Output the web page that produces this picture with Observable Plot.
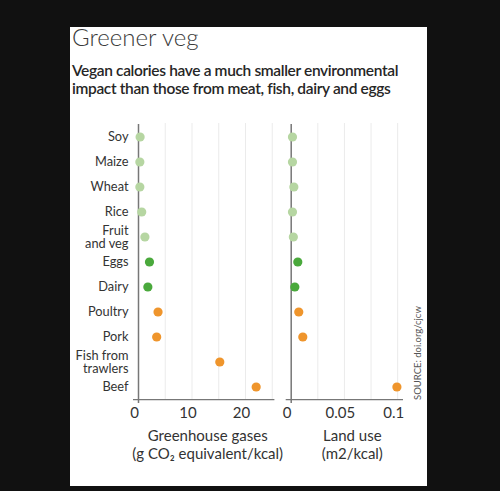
<!DOCTYPE html>
<html>
<head>
<meta charset="utf-8">
<script src="https://cdn.jsdelivr.net/npm/d3@7"></script>
<script src="https://cdn.jsdelivr.net/npm/@observablehq/plot@0.6"></script>
<style>
  html, body { margin: 0; padding: 0; background: #111; width: 500px; height: 491px; overflow: hidden; }
  #card { position: absolute; left: 70px; top: 27px; width: 357px; height: 459px; background: #fff; }
  #title { position: absolute; left: 72px; top: 22px; font: 300 24px Lato, sans-serif; color: #3a3a3a; white-space: nowrap; }
  #subtitle { position: absolute; left: 72px; top: 61px; font: 600 15.5px Lato, sans-serif; line-height: 18px; color: #262626; white-space: nowrap; letter-spacing: -0.35px; }
  #p1 { position: absolute; left: 70px; top: 110px; }
  #p2 { position: absolute; left: 280px; top: 110px; }
  #source { position: absolute; left: 418px; top: 400px; transform-origin: 0 0; transform: rotate(-90deg) translate(0, -6px); font: 9.5px Lato, sans-serif; color: #555; white-space: nowrap; }
  svg { overflow: visible; }
</style>
</head>
<body>
<div id="card"></div>
<div id="title">Greener veg</div>
<div id="subtitle">Vegan calories have a much smaller environmental<br>impact than those from meat, fish, dairy and eggs</div>
<div id="p1"></div>
<div id="p2"></div>
<div id="source">SOURCE: doi.org/cjcw</div>
<script>
// Data
const foods = ["Soy", "Maize", "Wheat", "Rice", "Fruit and veg", "Eggs", "Dairy", "Poultry", "Pork", "Fish from trawlers", "Beef"];
const foodLabels = ["Soy", "Maize", "Wheat", "Rice", "Fruit\nand veg", "Eggs", "Dairy", "Poultry", "Pork", "Fish from\ntrawlers", "Beef"];
const groups = ["Vegan", "Vegan", "Vegan", "Vegan", "Vegan", "Dairy and eggs", "Dairy and eggs", "Meat and fish", "Meat and fish", "Meat and fish", "Meat and fish"];
const ghg = [0.3, 0.25, 0.25, 0.6, 1.2, 2.05, 1.75, 3.65, 3.4, 15.2, 22.0];
const landUse = [0.0012, 0.0012, 0.0025, 0.0012, 0.002, 0.0062, 0.0034, 0.0071, 0.0109, null, 0.0993];
const groupNames = ["Vegan", "Dairy and eggs", "Meat and fish"];
const groupColors = ["#b6d6a2", "#4aa93c", "#ef952c"];
const ghgTicks = [0, 10, 20];
const ghgGrid = [5, 10, 15, 20, 25];
const landTicks = [0, 0.05, 0.1];
const landGrid = [0.025, 0.05, 0.075, 0.1];
const ghgTitle = "Greenhouse gases\n(g CO\u2082 equivalent/kcal)";
const landTitle = "Land use\n(m2/kcal)";

const rows = foods.map((f, i) => ({food: f, label: foodLabels[i], group: groups[i], ghg: ghg[i], land: landUse[i]}));
const labelOf = new Map(foods.map((f, i) => [f, foodLabels[i]]));

const FONT = "Lato, sans-serif";
const common = {
  height: 370,
  marginTop: 13,
  marginBottom: 81,
  style: {fontFamily: FONT, color: "#333", background: "transparent", overflow: "visible"},
  y: {type: "band", domain: foods, padding: 0, axis: null},
  color: {domain: groupNames, range: groupColors}
};

function panel(key, opts) {
  return Plot.plot({
    ...common,
    width: opts.width,
    marginLeft: opts.marginLeft,
    marginRight: opts.marginRight,
    x: {domain: opts.domain, axis: null},
    marks: [
      Plot.ruleX(opts.grid, {stroke: "#ebebeb", strokeWidth: 1}),
      opts.yAxis ? Plot.axisY({tickSize: 0, tickPadding: 10, fontSize: 12.8, label: null, tickFormat: d => labelOf.get(d), lineHeight: 1.02, fill: "#333"}) : null,
      Plot.axisX({ticks: opts.ticks, tickSize: 0, tickPadding: 8, fontSize: 15, dx: -4, label: null, fill: "#333", tickFormat: d => String(d)}),
      Plot.ruleY([foods[foods.length - 1]], {dy: 12.55, x1: opts.domain[0], x2: opts.domain[1], insetLeft: -5, stroke: "#777", strokeWidth: 1.3}),
      Plot.ruleX([0], {stroke: "#777", strokeWidth: 1.5, insetTop: 1, insetBottom: -4}),
      Plot.dot(rows, {x: key, y: "food", fill: "group", r: 4.6, stroke: null}),
      Plot.text([opts.title], {frameAnchor: "bottom", dy: 45, dx: opts.titleDx, lineAnchor: "middle", fontSize: 15, lineHeight: 1.2, fill: "#333"})
    ]
  });
}

document.getElementById("p1").append(panel("ghg", {
  width: 215, marginLeft: 68, marginRight: 10.6, domain: [0, 25.5],
  grid: ghgGrid, ticks: ghgTicks, title: ghgTitle, yAxis: true, titleDx: 1
}));
document.getElementById("p2").append(panel("land", {
  width: 147, marginLeft: 10.7, marginRight: 24, domain: [0, 0.1055],
  grid: landGrid, ticks: landTicks, title: landTitle, yAxis: false, titleDx: 5
}));
</script>
</body>
</html>
